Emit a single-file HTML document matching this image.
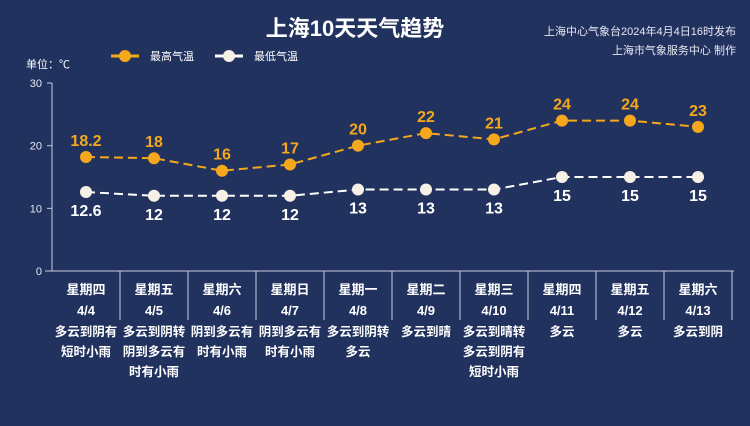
<!DOCTYPE html>
<html><head><meta charset="utf-8"><style>
body{margin:0;background:#22325f;}
svg{display:block;font-family:"Liberation Sans","Noto Sans CJK SC",sans-serif;}
</style></head><body>
<svg id="c" width="750" height="426" viewBox="0 0 750 426">
<rect width="750" height="426" fill="#22325f"/>
<text x="355" y="36" fill="#fff" font-size="22" font-weight="bold" text-anchor="middle">上海10天天气趋势</text>
<text x="736" y="35" fill="#e6e9f2" font-size="11" text-anchor="end">上海中心气象台2024年4月4日16时发布</text>
<text x="736" y="54" fill="#e6e9f2" font-size="11" text-anchor="end">上海市气象服务中心 制作</text>
<g><line x1="111" y1="56" x2="139" y2="56" stroke="#f5a81c" stroke-width="3"/><circle cx="125" cy="56" r="6" fill="#f5a81c"/><text x="150" y="60" fill="#fff" font-size="11">最高气温</text></g>
<g><line x1="215" y1="56" x2="243" y2="56" stroke="#fff" stroke-width="3"/><circle cx="229" cy="56" r="6" fill="#f7f0e6"/><text x="254" y="60" fill="#fff" font-size="11">最低气温</text></g>
<text x="26" y="68" fill="#fff" font-size="11">单位：℃</text>
<g id="axes"></g><g id="marks"></g>
</svg>
<script>
const categories=["星期四","星期五","星期六","星期日","星期一","星期二","星期三","星期四","星期五","星期六"];
const dates=["4/4","4/5","4/6","4/7","4/8","4/9","4/10","4/11","4/12","4/13"];
const weather=[["多云到阴有","短时小雨"],["多云到阴转","阴到多云有","时有小雨"],["阴到多云有","时有小雨"],["阴到多云有","时有小雨"],["多云到阴转","多云"],["多云到晴"],["多云到晴转","多云到阴有","短时小雨"],["多云"],["多云"],["多云到阴"]];
const highs=[18.2,18,16,17,20,22,21,24,24,23];
const lows=[12.6,12,12,12,13,13,13,15,15,15];
const highLabels=["18.2","18","16","17","20","22","21","24","24","23"];
const lowLabels=["12.6","12","12","12","13","13","13","15","15","15"];
const yTicks=[0,10,20,30];
const NS="http://www.w3.org/2000/svg";
const x0=52,colW=68,yBase=271,yTop=83,yMax=30;
const xs=i=>x0+colW*(i+0.5);
const ys=v=>yBase-(v/yMax)*(yBase-yTop);
function mk(tag,attrs,parent,text){const e=document.createElementNS(NS,tag);for(const k in attrs)e.setAttribute(k,attrs[k]);if(text!==undefined)e.textContent=text;parent.appendChild(e);return e;}
const ax=document.getElementById('axes'),mg=document.getElementById('marks');
const yl=mk('line',{x1:x0,y1:yTop,x2:x0,y2:yBase,stroke:'#c8cfe0','stroke-width':1},ax);


yTicks.forEach(t=>{
 const tk=mk('line',{x1:x0-5,y1:ys(t),x2:x0,y2:ys(t),stroke:'#c8cfe0'},ax);
 
 
 const tl=mk('text',{x:x0-10,y:ys(t)+4,fill:'#e6e9f2','font-size':11,'text-anchor':'end'},ax,String(t));
 
 
});
const bl=mk('line',{x1:x0-7,y1:yBase,x2:x0+colW*10+2,y2:yBase,stroke:'#c8cfe0'},ax);


categories.forEach((c,i)=>{
 const sx=x0+colW*(i+1);
 const sep=mk('line',{x1:sx,y1:yBase,x2:sx,y2:320,stroke:'#c8cfe0'},ax);
 
 
 const d=mk('text',{x:xs(i),y:294,fill:'#fff','font-size':13,'font-weight':'bold','text-anchor':'middle'},ax,c);
 
 
 const dt=mk('text',{x:xs(i),y:315,fill:'#fff','font-size':13,'font-weight':'bold','text-anchor':'middle'},ax,dates[i]);
 
 
 weather[i].forEach((w,j)=>{
  const wt=mk('text',{x:xs(i),y:336+j*20,fill:'#fff','font-size':12.5,'font-weight':'bold','text-anchor':'middle'},ax,w);
  
  
 });
});
function series(vals,labels,color,fill,above,name){
 const pl=mk('polyline',{points:vals.map((v,i)=>xs(i)+','+ys(v)).join(' '),fill:'none',stroke:color,'stroke-width':2,'stroke-dasharray':'9,5'},mg);
 
 
 vals.forEach((v,i)=>{
  const c=mk('circle',{cx:xs(i),cy:ys(v),r:6,fill:fill},mg);
  
  
  const t=mk('text',{x:xs(i),y:above?ys(v)-11:ys(v)+24,fill:above?'#f5a81c':'#fff','font-size':16,'font-weight':'bold','text-anchor':'middle'},mg,labels[i]);
  
  
 });
}
series(highs,highLabels,'#f5a81c','#f5a81c',true,'high-temp');
series(lows,lowLabels,'#ffffff','#f7f0e6',false,'low-temp');
</script>
</body></html>
